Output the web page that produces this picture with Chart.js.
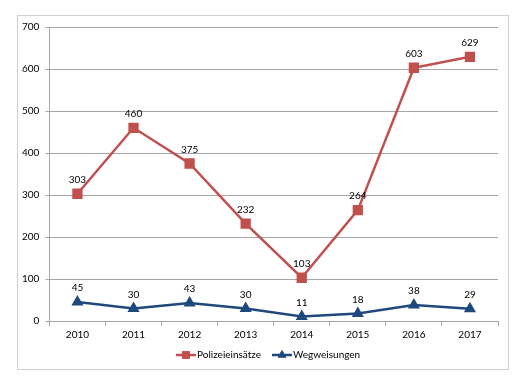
<!DOCTYPE html>
<html>
<head>
<meta charset="utf-8">
<script src="https://cdn.jsdelivr.net/npm/chart.js@4"></script>
<style>
  body { margin: 0; background: #fff; }
  #wrap { position: relative; width: 527px; height: 389px; }
</style>
</head>
<body>
<div id="wrap"><canvas id="myChart" width="527" height="389"></canvas></div>
<script>
var years = ['2010', '2011', '2012', '2013', '2014', '2015', '2016', '2017'];
var polizeieinsaetze = [303, 460, 375, 232, 103, 264, 603, 629];
var wegweisungen = [45, 30, 43, 30, 11, 18, 38, 29];

var red = '#C0504D';
var blue = '#1F497D';
var font = 'Lato, "Liberation Sans", sans-serif';

// frame, value labels and legend drawn like the spreadsheet chart
var extras = {
    id: 'extras',
    beforeDraw: function (chart) {
        var ctx = chart.ctx;
        ctx.save();
        ctx.strokeStyle = '#d0d0d0';
        ctx.lineWidth = 1;
        ctx.strokeRect(17.5, 15.5, 491, 354);
        ctx.restore();
    },
    afterDatasetsDraw: function (chart) {
        var ctx = chart.ctx;
        ctx.save();
        ctx.font = '10px ' + font;
        ctx.fillStyle = '#000';
        ctx.textAlign = 'center';
        ctx.textBaseline = 'middle';
        chart.data.datasets.forEach(function (ds, i) {
            chart.getDatasetMeta(i).data.forEach(function (pt, j) {
                ctx.fillText(ds.data[j], pt.x, pt.y - 14);
            });
        });

        // legend
        var items = [
            { x: 176, label: 'Polizeieinsätze', color: red, style: 'rect', r: 5 },
            { x: 272, label: 'Wegweisungen', color: blue, style: 'triangle', r: 4.5 }
        ];
        var y = 355;
        items.forEach(function (it) {
            ctx.strokeStyle = it.color;
            ctx.fillStyle = it.color;
            ctx.lineWidth = 2.5;
            ctx.beginPath();
            ctx.moveTo(it.x, y);
            ctx.lineTo(it.x + 20, y);
            ctx.stroke();
            ctx.lineWidth = 1;
            Chart.helpers.drawPoint(ctx, {
                pointStyle: it.style,
                radius: it.r,
                borderWidth: 1,
                rotation: 0
            }, it.x + 10, y);
            ctx.fillStyle = '#000';
            ctx.textAlign = 'left';
            ctx.fillText(it.label, it.x + 21, y);
        });
        ctx.restore();
    }
};

new Chart('myChart', {
    type: 'line',
    data: {
        labels: years,
        datasets: [{
            label: 'Polizeieinsätze',
            data: polizeieinsaetze,
            borderColor: red,
            backgroundColor: red,
            pointBackgroundColor: red,
            pointBorderColor: red,
            pointStyle: 'rect',
            pointRadius: 5.5,
            borderWidth: 2.5,
            tension: 0
        }, {
            label: 'Wegweisungen',
            data: wegweisungen,
            borderColor: blue,
            backgroundColor: blue,
            pointBackgroundColor: blue,
            pointBorderColor: blue,
            pointStyle: 'triangle',
            pointRadius: 4.5,
            borderWidth: 2.5,
            tension: 0
        }]
    },
    options: {
        responsive: false,
        animation: false,
        layout: {
            padding: { left: 16, right: 29, top: 27, bottom: 45 }
        },
        plugins: {
            legend: { display: false },
            tooltip: { enabled: false }
        },
        scales: {
            x: {
                offset: true,
                grid: {
                    offset: true,
                    drawOnChartArea: false,
                    drawTicks: true,
                    tickLength: 5,
                    color: '#a6a6a6'
                },
                border: { color: '#a6a6a6' },
                ticks: {
                    color: '#000',
                    padding: 3,
                    font: { family: font, size: 10 }
                }
            },
            y: {
                min: 0,
                max: 700,
                ticks: {
                    stepSize: 100,
                    color: '#000',
                    padding: 6,
                    font: { family: font, size: 10 }
                },
                grid: {
                    color: '#a6a6a6',
                    tickLength: 4
                },
                border: { color: '#a6a6a6' }
            }
        }
    },
    plugins: [extras]
});
</script>
</body>
</html>
